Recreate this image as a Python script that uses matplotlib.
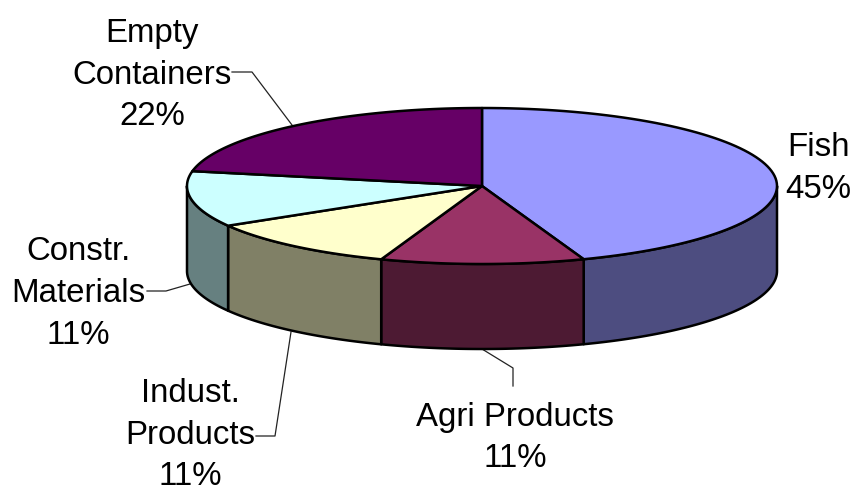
import numpy as np
import matplotlib
matplotlib.use("Agg")
import matplotlib.pyplot as plt
from matplotlib.patches import Polygon

categories = ["Fish", "Agri Products", "Indust.\nProducts", "Constr.\nMaterials", "Empty\nContainers"]
percent_labels = [45, 11, 11, 11, 22]
# slice sizes as drawn in the picture (rounded by the labels above)
drawn_shares = [44.4, 11.15, 10.95, 11.55, 21.95]
top_colors = ["#9999FF", "#993366", "#FFFFCC", "#CCFFFF", "#660066"]
side_colors = ["#4D4D80", "#4D1A33", "#808066", "#668080", "#330033"]

W, H = 858, 492
CX, CY, RX, RY, DEPTH = 482, 186, 295, 78, 85

plt.rcParams["font.family"] = ["Liberation Sans", "DejaVu Sans"]
fig = plt.figure(figsize=(W / 100, H / 100), dpi=100)
ax = fig.add_axes([0, 0, 1, 1])
ax.set_xlim(0, W)
ax.set_ylim(H, 0)
ax.axis("off")


def rim(a0, a1, dy=0.0):
    t = np.radians(np.linspace(a0, a1, 90))
    return np.column_stack([CX + RX * np.sin(t), CY - RY * np.cos(t) + dy])


edges = np.concatenate([[0], np.cumsum(drawn_shares)]) / sum(drawn_shares) * 360
LW = 1.8

# side walls
for i in range(len(categories)):
    a0, a1 = edges[i], edges[i + 1]
    lo, hi = max(a0, 90), min(a1, 270)
    if hi > lo:
        pts = np.vstack([rim(lo, hi), rim(lo, hi, DEPTH)[::-1]])
        ax.add_patch(Polygon(pts, closed=True, fc=side_colors[i], ec="black", lw=LW, joinstyle="round", zorder=2))

# top faces
for i in range(len(categories)):
    pts = np.vstack([[[CX, CY]], rim(edges[i], edges[i + 1])])
    ax.add_patch(Polygon(pts, closed=True, fc=top_colors[i], ec="black", lw=LW, joinstyle="round", zorder=3))

# labels
label_pos = [(818, 168.5), (515, 438), (190, 435), (78, 293.5), (152, 75)]
for name, pct, (x, y) in zip(categories, percent_labels, label_pos):
    ax.text(x, y, f"{name}\n{pct}%", ha="center", va="center", fontsize=23.8,
            linespacing=1.44, color="black", zorder=5)

# leader lines
leaders = [
    [(292, 125), (252, 72), (232, 72)],
    [(482, 349), (513, 368), (513, 386)],
    [(291, 332), (275, 436), (256, 436)],
    [(190, 284), (166, 291), (147, 291)],
]
for seg in leaders:
    xs, ys = zip(*seg)
    ax.plot(xs, ys, color="#222222", lw=0.9, zorder=1)

fig.savefig("out.png", dpi=100)
